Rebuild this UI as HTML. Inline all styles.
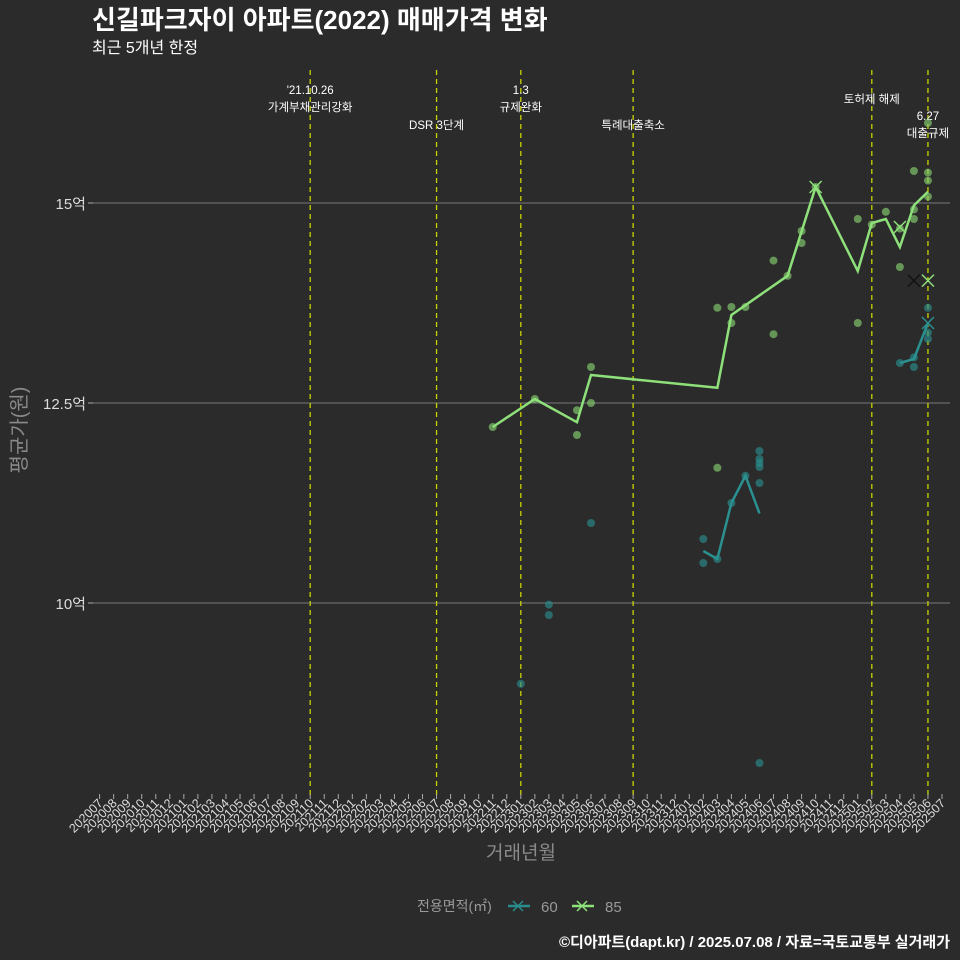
<!DOCTYPE html>
<html><head><meta charset="utf-8"><style>
body{margin:0;background:#2b2b2b;}
svg{display:block;font-family:"Liberation Sans","Noto Sans CJK KR",sans-serif;}
</style></head><body>
<svg id="c" width="960" height="960" viewBox="0 0 960 960">
<rect width="960" height="960" fill="#2b2b2b"/>
<text x="92" y="29" font-size="26" font-weight="bold" fill="#ffffff">신길파크자이 아파트(2022) 매매가격 변화</text>
<text x="92" y="53" font-size="16" fill="#ffffff">최근 5개년 한정</text>
<g id="grid"></g><g id="events"></g><g id="marks"></g><g id="xaxis"></g>
<text transform="translate(26,430) rotate(-90)" text-anchor="middle" font-size="20" fill="#8a8a8a">평균가(원)</text>
<text x="521" y="859" text-anchor="middle" font-size="19" fill="#8a8a8a">거래년월</text>
<g>
<text x="417" y="911" font-size="14" fill="#9a9a9a">전용면적(㎡)</text>
<g><line x1="508" y1="906" x2="530" y2="906" stroke="#2a8c8c" stroke-width="2.5"/><path d="M513 901l10 10M523 901l-10 10" stroke="#2a8c8c" stroke-width="1.5"/><text x="541" y="912" font-size="15" fill="#9a9a9a">60</text></g>
<g><line x1="572" y1="906" x2="594" y2="906" stroke="#8ee07a" stroke-width="2.5"/><path d="M577 901l10 10M587 901l-10 10" stroke="#8ee07a" stroke-width="1.5"/><text x="605" y="912" font-size="15" fill="#9a9a9a">85</text></g>
</g>
<text x="950" y="947" text-anchor="end" font-size="15" font-weight="bold" fill="#ffffff">©디아파트(dapt.kr) / 2025.07.08 / 자료=국토교통부 실거래가</text>
</svg>
<script>
const yTicks=[10,12.5,15];
const yTickLabels=["10억","12.5억","15억"];
const eventMonths=["202110","202207","202301","202309","202502","202506"];
const eventLabels=[["'21.10.26","가계부채관리강화"],["DSR 3단계"],["1.3","규제완화"],["특례대출축소"],["토허제 해제"],["6.27","대출규제"]];
const line85Months=["202211","202302","202305","202306","202403","202404","202408","202410","202501","202502","202503","202504","202505","202506"];
const line85Values=[12.2,12.55,12.26,12.85,12.69,13.6,14.09,15.2,14.15,14.75,14.8,14.45,14.97,15.14];
const line60Months=["202402","202403","202404","202405","202406","202504","202505","202506"];
const line60Values=[10.65,10.55,11.25,11.59,11.12,13.0,13.05,13.5];
const pts85Months=["202211","202302","202305","202305","202306","202306","202403","202403","202404","202404","202405","202407","202407","202408","202409","202409","202410","202501","202501","202502","202503","202504","202504","202505","202505","202505","202506","202506","202506","202506"];
const pts85Values=[12.2,12.55,12.41,12.1,12.95,12.5,11.69,13.69,13.5,13.7,13.7,14.28,13.36,14.09,14.65,14.5,15.2,14.8,13.5,14.73,14.89,14.2,14.68,15.4,14.92,14.8,15.38,15.28,15.08,16.0];
const pts60Months=["202301","202303","202303","202306","202402","202402","202403","202404","202405","202406","202406","202406","202406","202406","202406","202504","202505","202505","202506","202506","202506"];
const pts60Values=[8.99,9.98,9.85,11.0,10.8,10.5,10.55,11.25,11.59,11.9,11.8,11.75,11.7,11.5,8.0,13.0,13.07,12.95,13.69,13.38,13.3];
const cross85Months=["202410","202504","202506"];
const cross85Values=[15.2,14.7,14.03];
const crossBlackMonths=["202505"];
const crossBlackValues=[14.03];
const cross60Months=["202506"];
const cross60Values=[13.5];
const xTickMonths=[];
for(let y=2020,m=7;!(y===2025&&m===8);){xTickMonths.push(String(y)+String(m).padStart(2,"0"));m++;if(m>12){m=1;y++;}}

const NS="http://www.w3.org/2000/svg";
function mi(s){return (+s.slice(0,4)-2020)*12+(+s.slice(4)-7);}
function X(s){return 99.6+14.04*mi(s);}
function Y(v){return 203+(15-v)*80;}
function mk(tag,attrs,parent){const e=document.createElementNS(NS,tag);for(const k in attrs)e.setAttribute(k,attrs[k]);parent.appendChild(e);return e;}
const grid=document.getElementById('grid'),ev=document.getElementById('events'),marks=document.getElementById('marks'),xa=document.getElementById('xaxis');
yTicks.forEach((v,i)=>{
  const l=mk('line',{x1:93,x2:950,y1:Y(v),y2:Y(v),stroke:'#6a6a6a','stroke-width':1.2},grid);
  
  
  const t=mk('line',{x1:88,x2:93,y1:Y(v),y2:Y(v),stroke:'#aaa'},grid);
  
  
  const tx=mk('text',{x:86,y:Y(v)+6,'text-anchor':'end','font-size':15,fill:'#dddddd'},grid);
  tx.textContent=yTickLabels[i];
  
  
});
const evY=[[94,111],[129],[94,111],[129],[103],[120,137]];
eventMonths.forEach((m,i)=>{
  const x=X(m);
  const l=mk('line',{x1:x,x2:x,y1:70,y2:795,stroke:'#c8d400','stroke-width':1.3,'stroke-dasharray':'5,4'},ev);
  
  
  eventLabels[i].forEach((s,j)=>{
    const t=mk('text',{x:x,y:evY[i][j],'text-anchor':'middle','font-size':11.5,fill:'#ffffff'},ev);
    t.textContent=s;
    
    
  });
});
function dots(ms,vs,col,name){ms.forEach((m,i)=>{
  const c=mk('circle',{cx:X(m),cy:Y(vs[i]),r:4,fill:col,'fill-opacity':0.65},marks);
  
  
});}
dots(pts60Months,pts60Values,'#2a8c8c','point-60');
dots(pts85Months,pts85Values,'#86d06e','point-85');
function line(ms,vs,col,name){
  const p=mk('polyline',{points:ms.map((m,i)=>X(m)+','+Y(vs[i])).join(' '),fill:'none',stroke:col,'stroke-width':2.5},marks);
  
  
}
line(line60Months.slice(0,5),line60Values.slice(0,5),'#2a9090','line-60');
line(line60Months.slice(5),line60Values.slice(5),'#2a9090','line-60');
line(line85Months,line85Values,'#8ee07a','line-85');
function cross(ms,vs,col,name){ms.forEach((m,i)=>{
  const x=X(m),y=Y(vs[i]);
  const p=mk('path',{d:`M${x-6} ${y-6}L${x+6} ${y+6}M${x+6} ${y-6}L${x-6} ${y+6}`,stroke:col,'stroke-width':1.5},marks);
  
  
});}
cross(crossBlackMonths,crossBlackValues,'#111111','cross-marker');
cross(cross85Months,cross85Values,'#8ee07a','cross-85');
cross(cross60Months,cross60Values,'#2a9090','cross-60');
xTickMonths.forEach(m=>{
  const x=X(m);
  const t=mk('line',{x1:x,x2:x,y1:794,y2:799,stroke:'#aaa'},xa);
  
  
  const tx=mk('text',{x:x+4,y:804,'text-anchor':'end','font-size':12.5,fill:'#dddddd',transform:`rotate(-45 ${x+4} 804)`},xa);
  tx.textContent=m;
  
  
});
</script>
</body></html>
